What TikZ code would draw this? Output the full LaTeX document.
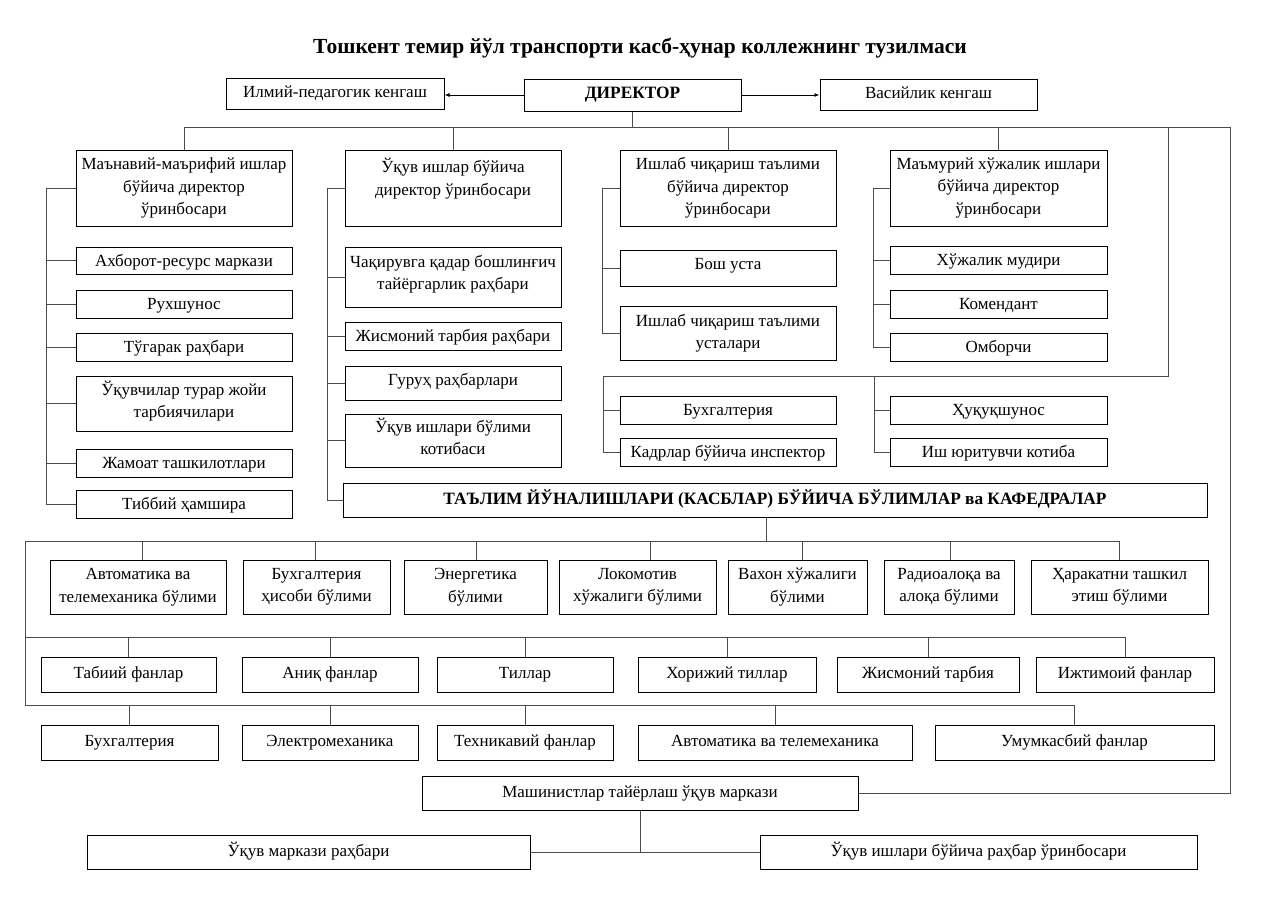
\documentclass[tikz,border=0pt]{standalone}
\usepackage{fontspec}
\setmainfont{Liberation Serif}
\usetikzlibrary{arrows.meta}
\newcommand\bx[7][]{\node[box,#1,minimum width={#5-#3},minimum height={#6-#4}] (#2) at ({(#3+#5)/2},{(#4+#6)/2}) {#7};}
\newcommand\bo[7][]{\pgfmathsetmacro\tth{41-(#6-#4)}\node[box,text height=\tth pt,text depth=2pt,#1,minimum width={#5-#3},minimum height={#6-#4}] (#2) at ({(#3+#5)/2},{(#4+#6)/2}) {#7};}
\begin{document}
\begin{tikzpicture}[x=1pt,y=-1pt,
  box/.style={draw=black,line width=1pt,align=center,inner sep=1pt,fill=white,font=\fontsize{17}{22.5}\selectfont},
  one/.style={text height=11.5pt,text depth=3.5pt},
  bold/.style={font=\bfseries\fontsize{17.3}{20}\selectfont},
  line/.style={draw=black!70,line width=0.9pt},
  arr/.style={draw=black,line width=0.9pt,-{Latex[length=5pt,width=4pt]}}]
\useasboundingbox (0,0) rectangle (1280,905);
\node[font=\bfseries\fontsize{21.5}{24}\selectfont] (title) at (640,48) {Тошкент темир йўл транспорти касб-ҳунар коллежнинг тузилмаси};
\bo{ilm}{226}{78}{444}{109}{Илмий-педагогик кенгаш}
\bo[bold]{dir}{524}{79}{741}{111}{ДИРЕКТОР}
\bo{vas}{820}{79}{1037}{110}{Васийлик кенгаш}
\draw[arr] (dir.west) -- (dir.west -| ilm.east);
\draw[arr] (dir.east) -- (dir.east -| vas.west);
% column 1
\bx{m1}{76}{150}{292}{226}{Маънавий-маърифий ишлар\\бўйича директор\\ўринбосари}
\bo{m2}{76}{247}{292}{274}{Ахборот-ресурс маркази}
\bo{m3}{76}{290}{292}{318}{Рухшунос}
\bo{m4}{76}{333}{292}{361}{Тўгарак раҳбари}
\bx[text depth=8pt]{m5}{76}{376}{292}{431}{Ўқувчилар турар жойи\\тарбиячилари}
\bo{m6}{76}{449}{292}{477}{Жамоат ташкилотлари}
\bo{m7}{76}{490}{292}{518}{Тиббий ҳамшира}
% column 2
\bx{u1}{345}{150}{561}{226}{Ўқув ишлар бўйича\\директор ўринбосари\\~}
\bx[text depth=9.5pt]{u2}{345}{247}{561}{307}{Чақирувга қадар бошлинғич\\тайёргарлик раҳбари}
\bo{u3}{345}{322}{561}{350}{Жисмоний тарбия раҳбари}
\bo{u4}{345}{366}{561}{400}{Гуруҳ раҳбарлари}
\bx[text depth=8pt]{u5}{345}{414}{561}{467}{Ўқув ишлари бўлими\\котибаси}
% column 3
\bx{i1}{620}{150}{836}{226}{Ишлаб чиқариш таълими\\бўйича директор\\ўринбосари}
\bo{i2}{620}{250}{836}{286}{Бош уста}
\bx{i3}{620}{306}{836}{360}{Ишлаб чиқариш таълими\\усталари}
% column 4
\bx{x1}{890}{150}{1107}{226}{Маъмурий хўжалик ишлари\\бўйича директор\\ўринбосари}
\bo{x2}{890}{246}{1107}{274}{Хўжалик мудири}
\bo{x3}{890}{290}{1107}{318}{Комендант}
\bo{x4}{890}{333}{1107}{361}{Омборчи}
% group
\bo{g1}{620}{396}{836}{424}{Бухгалтерия}
\bo{g2}{620}{438}{836}{466}{Кадрлар бўйича инспектор}
\bo{g3}{890}{396}{1107}{424}{Ҳуқуқшунос}
\bo{g4}{890}{438}{1107}{466}{Иш юритувчи котиба}
\bx[bold,one]{tal}{343}{483}{1207}{517}{ТАЪЛИМ ЙЎНАЛИШЛАРИ (КАСБЛАР) БЎЙИЧА БЎЛИМЛАР ва КАФЕДРАЛАР}
% row 1
\bx{d1}{50}{560}{226}{614}{Автоматика ва\\телемеханика бўлими}
\bx{d2}{243}{560}{390}{614}{Бухгалтерия\\ҳисоби бўлими}
\bx{d3}{404}{560}{547}{614}{Энергетика\\бўлими}
\bx{d4}{559}{560}{716}{614}{Локомотив\\хўжалиги бўлими}
\bx{d5}{728}{560}{867}{614}{Вахон хўжалиги\\бўлими}
\bx{d6}{884}{560}{1014}{614}{Радиоалоқа ва\\алоқа бўлими}
\bx{d7}{1031}{560}{1208}{614}{Ҳаракатни ташкил\\этиш бўлими}
% row 2
\bx[one]{k1}{41}{657}{216}{692}{Табиий фанлар}
\bx[one]{k2}{242}{657}{418}{692}{Аниқ фанлар}
\bx[one]{k3}{437}{657}{613}{692}{Тиллар}
\bx[one]{k4}{638}{657}{816}{692}{Хорижий тиллар}
\bx[one]{k5}{837}{657}{1019}{692}{Жисмоний тарбия}
\bx[one]{k6}{1036}{657}{1214}{692}{Ижтимоий фанлар}
% row 3
\bx[one]{r1}{41}{725}{218}{760}{Бухгалтерия}
\bx[one]{r2}{242}{725}{418}{760}{Электромеханика}
\bx[one]{r3}{437}{725}{613}{760}{Техникавий фанлар}
\bx[one]{r4}{638}{725}{912}{760}{Автоматика ва телемеханика}
\bx[one]{r5}{935}{725}{1214}{760}{Умумкасбий фанлар}
% bottom
\bx[one]{mash}{422}{776}{858}{810}{Машинистлар тайёрлаш ўқув маркази}
\bx[one]{mr1}{87}{835}{530}{869}{Ўқув маркази раҳбари}
\bx[one]{mr2}{760}{835}{1197}{869}{Ўқув ишлари бўйича раҳбар ўринбосари}
% connectors top
\coordinate (busR) at (1230,127);
\draw[line] (dir.south) -- (dir.south |- busR);
\draw[line] (m1.north) |- (busR) |- (mash.east);
\foreach \n in {u1,i1,x1} \draw[line] (\n.north) -- (\n.north |- busR);
\coordinate (gA) at (1168,127);
\coordinate (gB) at (603,376);
\coordinate (gC) at (874,376);
\draw[line] (gA) |- (gB) |- (g2.west);
\draw[line] (g1.west) -- (g1.west -| gB);
\draw[line] (gC) |- (g4.west);
\draw[line] (g3.west) -- (g3.west -| gC);
% spines
\draw[line] (m1.west) -- ++(-29,0) |- (m7.west);
\foreach \n in {m2,m3,m4,m5,m6} \draw[line] (\n.west) -- ++(-29,0);
\draw[line] (u1.west) -- ++(-17,0) |- (tal.west);
\foreach \n in {u2,u3,u4,u5} \draw[line] (\n.west) -- ++(-17,0);
\draw[line] (i1.west) -- ++(-17,0) |- (i3.west);
\draw[line] (i2.west) -- ++(-17,0);
\draw[line] (x1.west) -- ++(-16,0) |- (x4.west);
\foreach \n in {x2,x3} \draw[line] (\n.west) -- ++(-16,0);
% lower buses
\coordinate (t1) at (766,541);
\coordinate (L1) at (25,541);
\coordinate (L2) at (25,637);
\coordinate (L3) at (25,705);
\draw[line] (t1 |- tal.south) -- (t1);
\draw[line] (d7.north) |- (L1) -- (L3) -| (r5.north);
\draw[line] (k6.north) |- (L2);
\foreach \n/\s in {d1/4,d2/-1,d3/1,d4/13,d5/5,d6/1} \draw[line] ([xshift=\s]\n.north) -- ([xshift=\s]\n.north |- L1);
\foreach \n in {k1,k2,k3,k4,k5} \draw[line] (\n.north) -- (\n.north |- L2);
\foreach \n in {r1,r2,r3,r4} \draw[line] (\n.north) -- (\n.north |- L3);
\coordinate (mj) at (mash.south |- mr1.east);
\draw[line] (mash.south) -- (mj);
\draw[line] (mr1.east) -- (mr2.west);
\end{tikzpicture}
\end{document}
